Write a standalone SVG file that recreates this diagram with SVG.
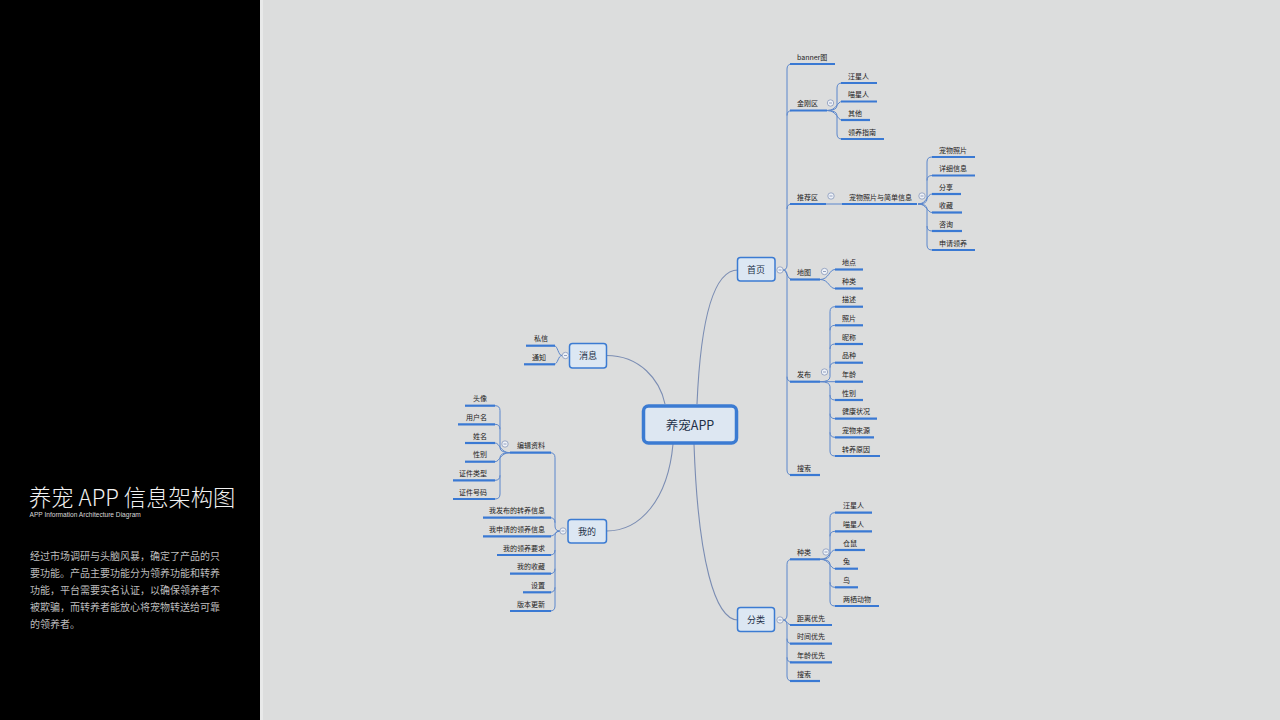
<svg xmlns="http://www.w3.org/2000/svg" width="1280" height="720" viewBox="0 0 1280 720">
<style>
text{font-family:"Noto Sans CJK SC","Noto Sans",sans-serif;}
.t{font-size:7px;fill:#1c1c1c;}
.te{font-size:7px;fill:#1c1c1c;text-anchor:end;}
.ul{stroke:#3a79d3;stroke-width:2.2;stroke-linecap:butt;}
.c{fill:none;stroke:#5a86cc;stroke-width:1;}
.m{fill:none;stroke:#7b8db3;stroke-width:1.1;}
.node{fill:#dce7f3;stroke:#3b7bd2;stroke-width:1.5;}
.nt{font-size:9px;fill:#233048;text-anchor:middle;}
.cc{fill:#eef2f8;stroke:#8797b9;stroke-width:0.8;}
.cm{stroke:#6d7fa6;stroke-width:0.7;}
</style>
<rect x="0" y="0" width="1280" height="720" fill="#dcdddd"/>
<rect x="0" y="0" width="260" height="720" fill="#000"/>
<rect x="260" y="0" width="3" height="720" fill="#e8e9e9"/>

<g id="intro">
<text x="29" y="506" font-size="22.3" font-weight="300" fill="#f2f2f2">养宠 APP 信息架构图</text>
<text x="29.5" y="517" font-size="6.6" fill="#d8d8d8" style="font-family:'Liberation Sans',sans-serif">APP Information Architecture Diagram</text>
<g font-size="10" fill="#bdbdbd">
<text x="30" y="559.5">经过市场调研与头脑风暴，确定了产品的只</text>
<text x="30" y="576.5">要功能。产品主要功能分为领养功能和转养</text>
<text x="30" y="593.5">功能，平台需要实名认证，以确保领养者不</text>
<text x="30" y="610.5">被欺骗，而转养者能放心将宠物转送给可靠</text>
<text x="30" y="627.5">的领养者。</text>
</g>
</g>

<g id="connectors">
<path class="m" d="M697,404 C700,335 710,270 738,270"/>
<path class="m" d="M606.5,355.5 C640,355.5 660,380 665,404"/>
<path class="m" d="M673,444 C668,500 640,531 606.5,531"/>
<path class="m" d="M694,444 C698,560 715,620 738,620"/>
<!-- 首页 -->
<path class="c" d="M783,270 Q787,270 787,265 V69 Q787,64 792,64 M787,115.5 Q787,110.5 792,110.5 M787,209 Q787,204 792,204 M783,270 C787,270 787,279.5 792,279.5 M783,270 Q787,270 787,275 V470 Q787,475 792,475 M787,376.7 Q787,381.7 792,381.7"/>
<!-- 金刚区 -->
<path class="c" d="M827,110.5 Q837,110.5 837,105.5 V88 Q837,83 842,83 M827,110.5 C837,110.5 837,101.5 842,101.5 M827,110.5 C837,110.5 837,120 842,120 M827,110.5 Q837,110.5 837,115.5 V134 Q837,139 842,139"/>
<path class="c" d="M826,204 H842"/>
<!-- 宠物照片与简单信息 -->
<path class="c" d="M918,204 Q927,204 927,199 V162 Q927,157 932,157 M927,180.5 Q927,175.5 932,175.5 M918,204 C927,204 927,194 932,194 M918,204 C927,204 927,212.5 932,212.5 M918,204 Q927,204 927,209 V245 Q927,250 932,250 M927,226 Q927,231 932,231"/>
<!-- 地图 -->
<path class="c" d="M820,279.5 C829,279.5 829,269.5 835,269.5 M820,279.5 C829,279.5 829,288.5 835,288.5"/>
<!-- 发布 -->
<path class="c" d="M820,381.7 Q830,381.7 830,376.7 V311.7 Q830,306.7 835,306.7 M830,330.3 Q830,325.3 835,325.3 M830,349 Q830,344 835,344 M830,367.7 Q830,362.7 835,362.7 M820,381.7 H835 M820,381.7 Q830,381.7 830,386.7 V451 Q830,456 835,456 M830,395 Q830,400 835,400 M830,413.7 Q830,418.7 835,418.7 M830,432.3 Q830,437.3 835,437.3"/>
<!-- 分类 -->
<path class="c" d="M783,620 Q787,620 787,615 V564.3 Q787,559.3 792,559.3 M783,620 C787,620 787,625 792,625 M783,620 Q787,620 787,625 V676 Q787,681 792,681 M787,638.7 Q787,643.7 792,643.7 M787,657.3 Q787,662.3 792,662.3"/>
<!-- 种类 -->
<path class="c" d="M820,559.3 Q830,559.3 830,554.3 V517.7 Q830,512.7 835,512.7 M830,536.3 Q830,531.3 835,531.3 M820,559.3 C830,559.3 830,550 835,550 M820,559.3 C830,559.3 830,568.7 835,568.7 M820,559.3 Q830,559.3 830,564.3 V601 Q830,606 835,606 M830,582.3 Q830,587.3 835,587.3"/>
<!-- 消息 -->
<path class="c" d="M562,355.5 C558,355.5 558,345.7 554,345.7 M562,355.5 C558,355.5 558,364.3 554,364.3"/>
<!-- 我的 -->
<path class="c" d="M560,531 Q555,531 555,526 V457.7 Q555,452.7 550,452.7 M555,522.7 Q555,517.7 550,517.7 M560,531 C555,531 555,536.3 550,536.3 M560,531 Q555,531 555,536 V606 Q555,611 550,611 M555,550 Q555,555 550,555 M555,568.7 Q555,573.7 550,573.7 M555,587.3 Q555,592.3 550,592.3"/>
<!-- 编辑资料 -->
<path class="c" d="M510,452.7 Q500,452.7 500,447.7 V410.7 Q500,405.7 495,405.7 M500,429.3 Q500,424.3 495,424.3 M510,452.7 C500,452.7 500,443 495,443 M510,452.7 C500,452.7 500,461.7 495,461.7 M510,452.7 Q500,452.7 500,457.7 V494 Q500,499 495,499 M500,475.3 Q500,480.3 495,480.3"/>
</g>

<g id="n-root"><rect x="643.5" y="406" width="93" height="37" rx="5" fill="#dde7f2" stroke="#3b7bd2" stroke-width="3.5"/><text x="690" y="429.5" font-size="12.5" fill="#233048" text-anchor="middle">养宠APP</text></g>

<g id="n-home"><rect class="node" x="737.5" y="257.5" width="37.5" height="23.5" rx="3"/><text class="nt" x="756" y="273">首页</text></g>
<g id="n-msg"><rect class="node" x="569.5" y="343.5" width="37" height="24.5" rx="3"/><text class="nt" x="588" y="359">消息</text></g>
<g id="n-mine"><rect class="node" x="568" y="519.5" width="38.5" height="23.5" rx="3"/><text class="nt" x="587" y="534.5">我的</text></g>
<g id="n-cat"><rect class="node" x="737.5" y="607.5" width="37" height="24" rx="3"/><text class="nt" x="756" y="623">分类</text></g>

<g id="collapse">
<circle class="cc" cx="780" cy="270" r="3.2"/><line class="cm" x1="778.5" y1="270" x2="781.5" y2="270"/>
<circle class="cc" cx="830.5" cy="103" r="3.2"/><line class="cm" x1="829" y1="103" x2="832" y2="103"/>
<circle class="cc" cx="831" cy="196" r="3.2"/><line class="cm" x1="829.5" y1="196" x2="832.5" y2="196"/>
<circle class="cc" cx="922" cy="196" r="3.2"/><line class="cm" x1="920.5" y1="196" x2="923.5" y2="196"/>
<circle class="cc" cx="824.5" cy="271.5" r="3.2"/><line class="cm" x1="823" y1="271.5" x2="826" y2="271.5"/>
<circle class="cc" cx="824.5" cy="372" r="3.2"/><line class="cm" x1="823" y1="372" x2="826" y2="372"/>
<circle class="cc" cx="780" cy="620" r="3.2"/><line class="cm" x1="778.5" y1="620" x2="781.5" y2="620"/>
<circle class="cc" cx="826" cy="552" r="3.2"/><line class="cm" x1="824.5" y1="552" x2="827.5" y2="552"/>
<circle class="cc" cx="565.5" cy="355.5" r="3.2"/><line class="cm" x1="564" y1="355.5" x2="567" y2="355.5"/>
<circle class="cc" cx="563" cy="531" r="3.2"/><line class="cm" x1="561.5" y1="531" x2="564.5" y2="531"/>
<circle class="cc" cx="505" cy="444" r="3.2"/><line class="cm" x1="503.5" y1="444" x2="506.5" y2="444"/>
</g>

<!-- 首页 children -->
<g id="h-banner"><text class="t" x="797" y="59.5">banner图</text><line class="ul" x1="790" y1="64" x2="835" y2="64"/></g>
<g id="h-jingang"><text class="t" x="797" y="106">金刚区</text><line class="ul" x1="790" y1="110.5" x2="827" y2="110.5"/></g>
<g id="h-tuijian"><text class="t" x="797" y="199.5">推荐区</text><line class="ul" x1="790" y1="204" x2="826" y2="204"/></g>
<g id="h-ditu"><text class="t" x="797" y="275">地图</text><line class="ul" x1="790" y1="279.5" x2="820" y2="279.5"/></g>
<g id="h-fabu"><text class="t" x="797" y="377">发布</text><line class="ul" x1="790" y1="381.7" x2="820" y2="381.7"/></g>
<g id="h-sousuo"><text class="t" x="797" y="470.5">搜索</text><line class="ul" x1="790" y1="475" x2="820" y2="475"/></g>

<g id="jg-1"><text class="t" x="848" y="78.5">汪星人</text><line class="ul" x1="841" y1="83" x2="877" y2="83"/></g>
<g id="jg-2"><text class="t" x="848" y="97">喵星人</text><line class="ul" x1="841" y1="101.5" x2="877" y2="101.5"/></g>
<g id="jg-3"><text class="t" x="848" y="115.5">其他</text><line class="ul" x1="841" y1="120" x2="870" y2="120"/></g>
<g id="jg-4"><text class="t" x="848" y="134.5">领养指南</text><line class="ul" x1="841" y1="139" x2="884" y2="139"/></g>

<g id="tj-main"><text class="t" x="849" y="199.5">宠物照片与简单信息</text><line class="ul" x1="842" y1="204" x2="917" y2="204"/></g>
<g id="tj-1"><text class="t" x="939" y="152.5">宠物照片</text><line class="ul" x1="932" y1="157" x2="975" y2="157"/></g>
<g id="tj-2"><text class="t" x="939" y="171">详细信息</text><line class="ul" x1="932" y1="175.5" x2="975" y2="175.5"/></g>
<g id="tj-3"><text class="t" x="939" y="189.5">分享</text><line class="ul" x1="932" y1="194" x2="961" y2="194"/></g>
<g id="tj-4"><text class="t" x="939" y="208">收藏</text><line class="ul" x1="932" y1="212.5" x2="962" y2="212.5"/></g>
<g id="tj-5"><text class="t" x="939" y="226.5">咨询</text><line class="ul" x1="932" y1="231" x2="962" y2="231"/></g>
<g id="tj-6"><text class="t" x="939" y="245.5">申请领养</text><line class="ul" x1="932" y1="250" x2="975" y2="250"/></g>

<g id="dt-1"><text class="t" x="842" y="265">地点</text><line class="ul" x1="835" y1="269.5" x2="863" y2="269.5"/></g>
<g id="dt-2"><text class="t" x="842" y="284">种类</text><line class="ul" x1="835" y1="288.5" x2="863" y2="288.5"/></g>

<g id="fb-1"><text class="t" x="842" y="302.2">描述</text><line class="ul" x1="835" y1="306.7" x2="863" y2="306.7"/></g>
<g id="fb-2"><text class="t" x="842" y="320.8">照片</text><line class="ul" x1="835" y1="325.3" x2="863" y2="325.3"/></g>
<g id="fb-3"><text class="t" x="842" y="339.5">昵称</text><line class="ul" x1="835" y1="344" x2="863" y2="344"/></g>
<g id="fb-4"><text class="t" x="842" y="358.2">品种</text><line class="ul" x1="835" y1="362.7" x2="863" y2="362.7"/></g>
<g id="fb-5"><text class="t" x="842" y="377">年龄</text><line class="ul" x1="835" y1="381.7" x2="863" y2="381.7"/></g>
<g id="fb-6"><text class="t" x="842" y="395.5">性别</text><line class="ul" x1="835" y1="400" x2="863" y2="400"/></g>
<g id="fb-7"><text class="t" x="842" y="414.2">健康状况</text><line class="ul" x1="835" y1="418.7" x2="877" y2="418.7"/></g>
<g id="fb-8"><text class="t" x="842" y="432.8">宠物来源</text><line class="ul" x1="835" y1="437.3" x2="874" y2="437.3"/></g>
<g id="fb-9"><text class="t" x="842" y="451.5">转养原因</text><line class="ul" x1="835" y1="456" x2="880" y2="456"/></g>

<!-- 分类 children -->
<g id="c-zhonglei"><text class="t" x="797" y="554.8">种类</text><line class="ul" x1="790" y1="559.3" x2="820" y2="559.3"/></g>
<g id="c-juli"><text class="t" x="797" y="620.5">距离优先</text><line class="ul" x1="790" y1="625" x2="832" y2="625"/></g>
<g id="c-shijian"><text class="t" x="797" y="639.2">时间优先</text><line class="ul" x1="790" y1="643.7" x2="832" y2="643.7"/></g>
<g id="c-nianling"><text class="t" x="797" y="657.8">年龄优先</text><line class="ul" x1="790" y1="662.3" x2="832" y2="662.3"/></g>
<g id="c-sousuo"><text class="t" x="797" y="676.5">搜索</text><line class="ul" x1="790" y1="681" x2="820" y2="681"/></g>

<g id="zl-1"><text class="t" x="843" y="508.2">汪星人</text><line class="ul" x1="835" y1="512.7" x2="872" y2="512.7"/></g>
<g id="zl-2"><text class="t" x="843" y="526.8">喵星人</text><line class="ul" x1="835" y1="531.3" x2="872" y2="531.3"/></g>
<g id="zl-3"><text class="t" x="843" y="545.5">仓鼠</text><line class="ul" x1="835" y1="550" x2="865" y2="550"/></g>
<g id="zl-4"><text class="t" x="843" y="564.2">兔</text><line class="ul" x1="835" y1="568.7" x2="858" y2="568.7"/></g>
<g id="zl-5"><text class="t" x="843" y="582.8">鸟</text><line class="ul" x1="835" y1="587.3" x2="858" y2="587.3"/></g>
<g id="zl-6"><text class="t" x="843" y="601.5">两栖动物</text><line class="ul" x1="835" y1="606" x2="879" y2="606"/></g>

<!-- 消息 children -->
<g id="m-sixin"><text class="te" x="548" y="341.2">私信</text><line class="ul" x1="526" y1="345.7" x2="555" y2="345.7"/></g>
<g id="m-tongzhi"><text class="te" x="546" y="359.8">通知</text><line class="ul" x1="524" y1="364.3" x2="555" y2="364.3"/></g>

<!-- 我的 children -->
<g id="w-bianji"><text class="te" x="545" y="448.2">编辑资料</text><line class="ul" x1="510" y1="452.7" x2="551" y2="452.7"/></g>
<g id="w-fabu"><text class="te" x="545" y="513.2">我发布的转养信息</text><line class="ul" x1="483" y1="517.7" x2="551" y2="517.7"/></g>
<g id="w-shenqing"><text class="te" x="545" y="531.8">我申请的领养信息</text><line class="ul" x1="483" y1="536.3" x2="551" y2="536.3"/></g>
<g id="w-yaoqiu"><text class="te" x="545" y="550.5">我的领养要求</text><line class="ul" x1="497" y1="555" x2="551" y2="555"/></g>
<g id="w-shoucang"><text class="te" x="545" y="569.2">我的收藏</text><line class="ul" x1="510" y1="573.7" x2="551" y2="573.7"/></g>
<g id="w-shezhi"><text class="te" x="545" y="587.8">设置</text><line class="ul" x1="523" y1="592.3" x2="551" y2="592.3"/></g>
<g id="w-banben"><text class="te" x="545" y="606.5">版本更新</text><line class="ul" x1="510" y1="611" x2="551" y2="611"/></g>

<g id="bj-1"><text class="te" x="487" y="401.2">头像</text><line class="ul" x1="465" y1="405.7" x2="495" y2="405.7"/></g>
<g id="bj-2"><text class="te" x="487" y="419.8">用户名</text><line class="ul" x1="458" y1="424.3" x2="495" y2="424.3"/></g>
<g id="bj-3"><text class="te" x="487" y="438.5">姓名</text><line class="ul" x1="465" y1="443" x2="495" y2="443"/></g>
<g id="bj-4"><text class="te" x="487" y="457.2">性别</text><line class="ul" x1="465" y1="461.7" x2="495" y2="461.7"/></g>
<g id="bj-5"><text class="te" x="487" y="475.8">证件类型</text><line class="ul" x1="453" y1="480.3" x2="495" y2="480.3"/></g>
<g id="bj-6"><text class="te" x="487" y="494.5">证件号码</text><line class="ul" x1="453" y1="499" x2="495" y2="499"/></g>
</svg>
